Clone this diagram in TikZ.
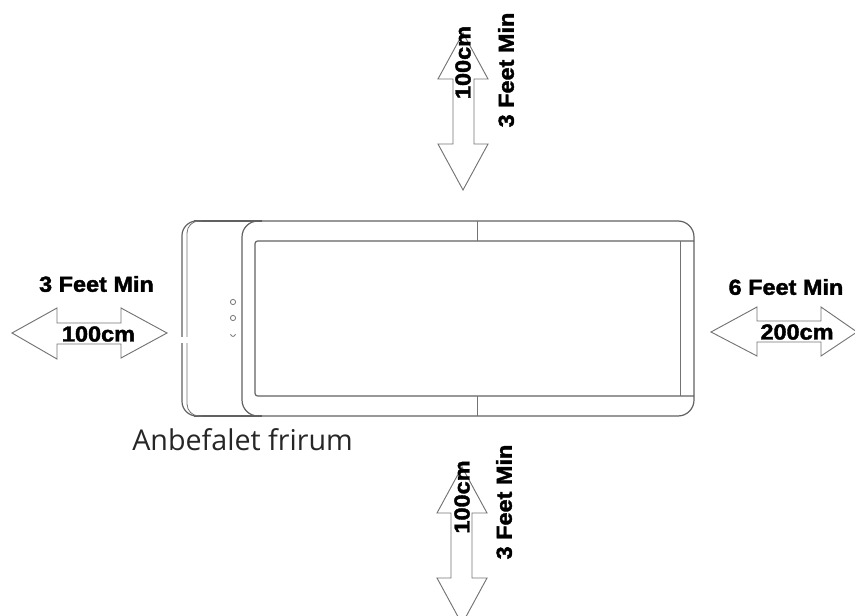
\documentclass[tikz,border=0pt]{standalone}
\usepackage{fontspec}
\setmainfont{Open Sans}
\newfontfamily\labelfont[FakeBold=1.8,FakeStretch=1.08]{Liberation Sans Bold}
\tikzset{
	devline/.style={draw=black!62, line width=0.9pt, line join=round},
	thinline/.style={draw=black!55, line width=0.6pt},
	arrowline/.style={draw=black!55, line width=0.7pt, line join=miter},
	feetlabel/.style={font=\labelfont\fontsize{16.3}{16.3}\selectfont, text=black, inner sep=0pt},
	caption/.style={font=\fontsize{21.5}{21.5}\selectfont, text=black!85, inner sep=0pt, anchor=base west},
}
\begin{document}
\begin{tikzpicture}[x=0.75pt, y=-0.75pt]
	\useasboundingbox (0,0) rectangle (855,616);
	\clip (0,0) rectangle (855,616);
	
	% device body, outer outline
	\draw[devline, rounded corners=11pt] (205,221) -- (182,221) -- (182,416) -- (205,416);
	\draw[devline, rounded corners=12pt] (250,221) -- (694,221) -- (694,416) -- (250,416);
	\draw[devline] (194,221) -- (262,221) (194,416) -- (262,416);
	% second line of the rear cover
	\draw[thinline, rounded corners=9pt] (202,221) -- (187,221) -- (187,416) -- (202,416);
	% front edge
	\draw[devline, rounded corners=12pt] (262,221) -- (242,221) -- (242,416) -- (262,416);
	
	% belt area and the side rail
	\draw[devline, rounded corners=2pt] (694,241) -- (255,241) -- (255,396) -- (694,396);
	\draw[thinline] (680,241) -- (680,396);
	% centre marks
	\draw[thinline] (477,221) -- (477,241);
	\draw[thinline] (477,396) -- (477,416);
	
	% three small buttons
	\draw[thinline] (233,302) circle (2.6);
	\draw[thinline] (233,318) circle (2.6);
	\draw[thinline] (230.6,334) arc (180:0:2.4);
	% white smudge over the rear cover
	\fill[white] (180,337) rectangle (189,343);
	
	% arrow at the top
	\draw[arrowline] (463,33) -- (488,79) -- (474,79) -- (474,144) -- (488,144) -- (463,190)
		-- (438,144) -- (453,144) -- (453,79) -- (438,79) -- cycle;
	\node[feetlabel, rotate=90] (topcm) at (463,62.5) {100cm};
	\node[feetlabel, rotate=90] (topfeet) at (506,70) {3 Feet Min};
	
	% arrow at the bottom, runs off the page
	\draw[arrowline] (462,467) -- (487,513) -- (472,513) -- (472,578) -- (487,578) -- (462,624)
		-- (437,578) -- (451,578) -- (451,513) -- (437,513) -- cycle;
	\node[feetlabel, rotate=90] (bottomcm) at (462,497) {100cm};
	\node[feetlabel, rotate=90] (bottomfeet) at (504,502) {3 Feet Min};
	
	% arrow at the left
	\draw[arrowline] (12,333) -- (57,308) -- (57,323) -- (121,323) -- (121,308) -- (167,333)
		-- (121,358) -- (121,344) -- (57,344) -- (57,359) -- cycle;
	\node[feetlabel] (leftcm) at (98.5,334) {100cm};
	\node[feetlabel] (leftfeet) at (96.5,284) {3 Feet Min};
	
	% arrow at the right, its tip touches the page edge
	\draw[arrowline] (711,332) -- (757,307) -- (757,321) -- (821,321) -- (821,307) -- (857,332)
		-- (821,356) -- (821,342) -- (757,342) -- (757,356) -- cycle;
	\node[feetlabel] (rightcm) at (797,332) {200cm};
	\node[feetlabel] (rightfeet) at (786,287) {6 Feet Min};
	
	% caption under the device
	\node[caption] (caption) at (132,450) {Anbefalet frirum};
\end{tikzpicture}
\end{document}
